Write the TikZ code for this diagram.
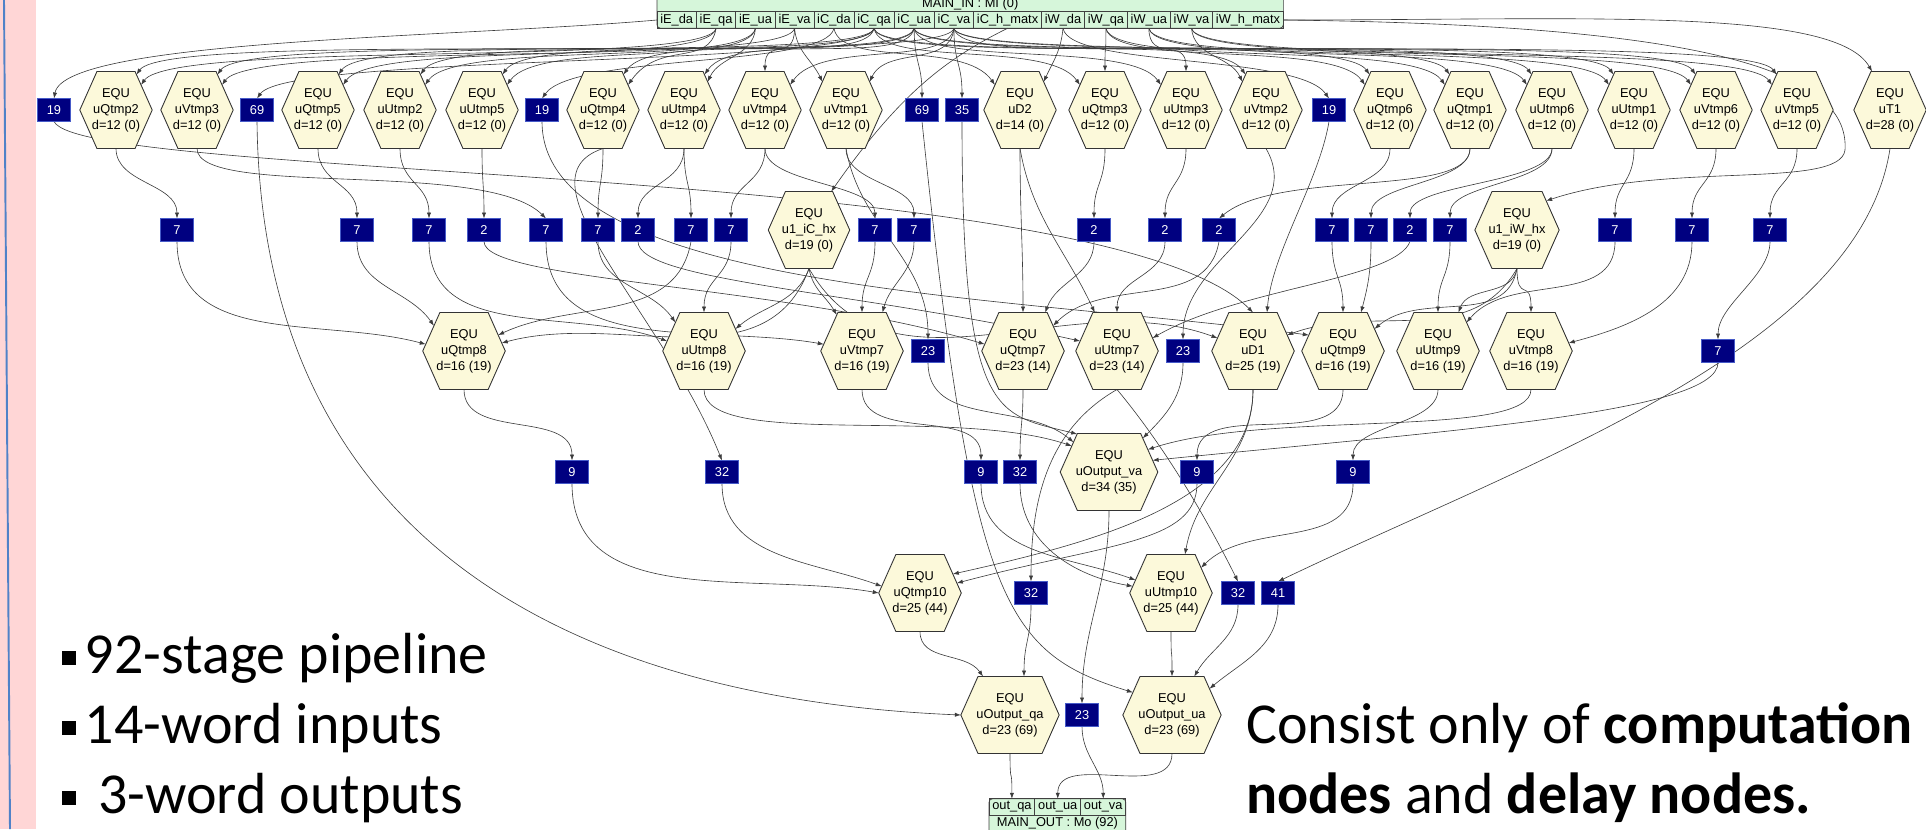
\documentclass[tikz,border=0pt]{standalone}
\usepackage{fontspec}
\setmainfont{Carlito}
\newfontfamily\gvfont{Liberation Sans}
\usepackage{tikz}
\usetikzlibrary{calc,arrows.meta,positioning,shapes.symbols,backgrounds}
\definecolor{hexfill}{RGB}{252,249,218}
\definecolor{dlyfill}{RGB}{0,0,128}
\definecolor{dlyedge}{RGB}{70,90,200}
\definecolor{recfill}{RGB}{214,246,218}
\definecolor{edgegray}{RGB}{60,60,60}
\definecolor{pinkbar}{RGB}{255,214,214}
\definecolor{bluebar}{RGB}{80,130,200}
\newcommand{\sqbul}{\rule[0.14em]{0.24em}{0.24em}\hspace{0.15em}}
\tikzset{
  equ/.style={shape=signal, signal to=east and west, signal pointer angle=132,
    draw=black!80, fill=hexfill, line width=0.5pt, align=center,
    font=\gvfont\fontsize{7.3}{9.1}\selectfont, minimum height=1.54cm,
    inner xsep=-0.07cm, inner ysep=1pt, outer sep=0pt},
  equtop/.style={equ, inner xsep=-0.1cm},
  equwide/.style={equ, inner xsep=-0.03cm},
  dly/.style={rectangle, fill=dlyfill, draw=dlyedge, line width=0.4pt, text=white,
    font=\gvfont\fontsize{7.3}{8}\selectfont, minimum width=0.67cm,
    minimum height=0.46cm, inner sep=0pt, outer sep=0pt},
  fld/.style={rectangle, draw=black!75, line width=0.4pt,
    font=\gvfont\fontsize{7.3}{8}\selectfont, minimum height=0.33cm,
    inner xsep=0.066cm, inner ysep=0pt, outer sep=0pt},
  rechead/.style={font=\gvfont\fontsize{7.3}{8}\selectfont, inner sep=0pt},
  recbox/.style={draw=black!75, fill=recfill, line width=0.4pt, rounded corners=2pt},
  arr/.style={-{Latex[length=1.2mm,width=0.85mm]}, draw=edgegray, line width=0.35pt},
  bandL/.style={out=-100, in=55, out distance=0.8cm, in distance=1.1cm},
  bandR/.style={out=-80, in=125, out distance=0.8cm, in distance=1.1cm},
  nearL/.style={out=-95, in=65},
  nearR/.style={out=-85, in=115},
  dn/.style={out=-90, in=90, distance=0.7cm},
  bigtxt/.style={font=\fontsize{33}{40}\selectfont, inner sep=0pt}
}

\begin{document}
\begin{tikzpicture}[x=0.02cm, y=0.02cm]
  \useasboundingbox (0,0) rectangle (1926,-829);
  \fill[pinkbar] (0,0) rectangle (36,-829);
  \draw[bluebar, line width=1.1pt] (4,0) -- (10,-829);

  % MAIN_IN record
  \node[fld, anchor=west] (iE_da) at (657,-20) {iE\_da};
  \node[fld, right=0pt of iE_da] (iE_qa) {iE\_qa};
  \node[fld, right=0pt of iE_qa] (iE_ua) {iE\_ua};
  \node[fld, right=0pt of iE_ua] (iE_va) {iE\_va};
  \node[fld, right=0pt of iE_va] (iC_da) {iC\_da};
  \node[fld, right=0pt of iC_da] (iC_qa) {iC\_qa};
  \node[fld, right=0pt of iC_qa] (iC_ua) {iC\_ua};
  \node[fld, right=0pt of iC_ua] (iC_va) {iC\_va};
  \node[fld, right=0pt of iC_va] (iC_h_matx) {iC\_h\_matx};
  \node[fld, right=0pt of iC_h_matx] (iW_da) {iW\_da};
  \node[fld, right=0pt of iW_da] (iW_qa) {iW\_qa};
  \node[fld, right=0pt of iW_qa] (iW_ua) {iW\_ua};
  \node[fld, right=0pt of iW_ua] (iW_va) {iW\_va};
  \node[fld, right=0pt of iW_va] (iW_h_matx) {iW\_h\_matx};
  \node[rechead] (mainin) at ($(iE_da.north west)!0.5!(iW_h_matx.north east)+(0,8)$) {MAIN\_IN : MI (0)};

  % row 1
  \node[dly] (d19a) at (54,-110) {19};
  \node[equtop] (uQtmp2) at (116,-110) {EQU\\uQtmp2\\d=12 (0)};
  \node[equtop] (uVtmp3) at (197,-110) {EQU\\uVtmp3\\d=12 (0)};
  \node[dly] (d69a) at (257,-110) {69};
  \node[equtop] (uQtmp5) at (318,-110) {EQU\\uQtmp5\\d=12 (0)};
  \node[equtop] (uUtmp2) at (400,-110) {EQU\\uUtmp2\\d=12 (0)};
  \node[equtop] (uUtmp5) at (482,-110) {EQU\\uUtmp5\\d=12 (0)};
  \node[dly] (d19b) at (542,-110) {19};
  \node[equtop] (uQtmp4) at (603,-110) {EQU\\uQtmp4\\d=12 (0)};
  \node[equtop] (uUtmp4) at (684,-110) {EQU\\uUtmp4\\d=12 (0)};
  \node[equtop] (uVtmp4) at (765,-110) {EQU\\uVtmp4\\d=12 (0)};
  \node[equtop] (uVtmp1) at (846,-110) {EQU\\uVtmp1\\d=12 (0)};
  \node[dly] (d69b) at (922,-110) {69};
  \node[dly] (d35) at (962,-110) {35};
  \node[equtop] (uD2) at (1020,-110) {EQU\\uD2\\d=14 (0)};
  \node[equtop] (uQtmp3) at (1105,-110) {EQU\\uQtmp3\\d=12 (0)};
  \node[equtop] (uUtmp3) at (1186,-110) {EQU\\uUtmp3\\d=12 (0)};
  \node[equtop] (uVtmp2) at (1266,-110) {EQU\\uVtmp2\\d=12 (0)};
  \node[dly] (d19c) at (1329,-110) {19};
  \node[equtop] (uQtmp6) at (1390,-110) {EQU\\uQtmp6\\d=12 (0)};
  \node[equtop] (uQtmp1) at (1470,-110) {EQU\\uQtmp1\\d=12 (0)};
  \node[equtop] (uUtmp6) at (1552,-110) {EQU\\uUtmp6\\d=12 (0)};
  \node[equtop] (uUtmp1) at (1634,-110) {EQU\\uUtmp1\\d=12 (0)};
  \node[equtop] (uVtmp6) at (1716,-110) {EQU\\uVtmp6\\d=12 (0)};
  \node[equtop] (uVtmp5) at (1797,-110) {EQU\\uVtmp5\\d=12 (0)};
  \node[equtop] (uT1) at (1890,-110) {EQU\\uT1\\d=28 (0)};

  % row 2
  \node[dly] (b1) at (177,-230) {7};
  \node[dly] (b2) at (357,-230) {7};
  \node[dly] (b3) at (429,-230) {7};
  \node[dly] (b4) at (484,-230) {2};
  \node[dly] (b5) at (546,-230) {7};
  \node[dly] (b6) at (598,-230) {7};
  \node[dly] (b7) at (638,-230) {2};
  \node[dly] (b8) at (691,-230) {7};
  \node[dly] (b9) at (731,-230) {7};
  \node[equ] (u1_iC_hx) at (809,-230) {EQU\\u1\_iC\_hx\\d=19 (0)};
  \node[dly] (b10) at (875,-230) {7};
  \node[dly] (b11) at (914,-230) {7};
  \node[dly] (b12) at (1094,-230) {2};
  \node[dly] (b13) at (1165,-230) {2};
  \node[dly] (b14) at (1219,-230) {2};
  \node[dly] (b15) at (1332,-230) {7};
  \node[dly] (b16) at (1371,-230) {7};
  \node[dly] (b17) at (1410,-230) {2};
  \node[dly] (b18) at (1450,-230) {7};
  \node[equ] (u1_iW_hx) at (1517,-230) {EQU\\u1\_iW\_hx\\d=19 (0)};
  \node[dly] (b19) at (1615,-230) {7};
  \node[dly] (b20) at (1692,-230) {7};
  \node[dly] (b21) at (1770,-230) {7};

  % row 3
  \node[equ] (uQtmp8) at (464,-351) {EQU\\uQtmp8\\d=16 (19)};
  \node[equ] (uUtmp8) at (704,-351) {EQU\\uUtmp8\\d=16 (19)};
  \node[equ] (uVtmp7) at (862,-351) {EQU\\uVtmp7\\d=16 (19)};
  \node[dly] (c23a) at (928,-351) {23};
  \node[equ] (uQtmp7) at (1023,-351) {EQU\\uQtmp7\\d=23 (14)};
  \node[equ] (uUtmp7) at (1117,-351) {EQU\\uUtmp7\\d=23 (14)};
  \node[dly] (c23b) at (1183,-351) {23};
  \node[equ] (uD1) at (1253,-351) {EQU\\uD1\\d=25 (19)};
  \node[equ] (uQtmp9) at (1343,-351) {EQU\\uQtmp9\\d=16 (19)};
  \node[equ] (uUtmp9) at (1438,-351) {EQU\\uUtmp9\\d=16 (19)};
  \node[equ] (uVtmp8) at (1531,-351) {EQU\\uVtmp8\\d=16 (19)};
  \node[dly] (c7) at (1718,-351) {7};

  % row 4
  \node[dly] (e9a) at (572,-472) {9};
  \node[dly] (e32a) at (722,-472) {32};
  \node[dly] (e9b) at (981,-472) {9};
  \node[dly] (e32b) at (1020,-472) {32};
  \node[equwide] (uOutput_va) at (1109,-472) {EQU\\uOutput\_va\\d=34 (35)};
  \node[dly] (e9c) at (1197,-472) {9};
  \node[dly] (e9d) at (1353,-472) {9};

  % row 5
  \node[equ] (uQtmp10) at (920,-593) {EQU\\uQtmp10\\d=25 (44)};
  \node[dly] (f32a) at (1031,-593) {32};
  \node[equ] (uUtmp10) at (1171,-593) {EQU\\uUtmp10\\d=25 (44)};
  \node[dly] (f32b) at (1238,-593) {32};
  \node[dly] (f41) at (1278,-593) {41};

  % row 6
  \node[equwide] (uOutput_qa) at (1010,-715) {EQU\\uOutput\_qa\\d=23 (69)};
  \node[dly] (g23) at (1082,-715) {23};
  \node[equwide] (uOutput_ua) at (1172,-715) {EQU\\uOutput\_ua\\d=23 (69)};

  % MAIN_OUT record
  \node[fld, anchor=west] (out_qa) at (989,-807) {out\_qa};
  \node[fld, right=0pt of out_qa] (out_ua) {out\_ua};
  \node[fld, right=0pt of out_ua] (out_va) {out\_va};
  \node[rechead] (mainout) at ($(out_qa.south west)!0.5!(out_va.south east)+(0,-8)$) {MAIN\_OUT : Mo (92)};

  \coordinate (wbend) at (1845,-150);

  \begin{scope}[on background layer]
    \draw[recbox] (iE_da.south west) rectangle ($(iW_h_matx.north east)+(0,20)$);
    \draw[recbox] (out_qa.north west) rectangle ($(out_va.south east)+(0,-20)$);

    % inputs
    \draw[arr] (iE_da.west) to[out=185, in=80, out distance=4cm, in distance=1.2cm] (d19a.north);
    \draw[arr] (iE_qa.south) to[bandL] (uQtmp2.45);
    \draw[arr] (iE_qa.south) to[bandL] (uQtmp5.45);
    \draw[arr] (iE_qa.south) to[bandL] (uQtmp4.45);
    \draw[arr] (iE_ua.south) to[bandL] (uUtmp2.45);
    \draw[arr] (iE_ua.south) to[bandL] (uUtmp5.45);
    \draw[arr] (iE_ua.south) to[nearL] (uUtmp4.50);
    \draw[arr] (iE_va.south) to[bandL] (uVtmp3.45);
    \draw[arr] (iE_va.south) to[dn] (uVtmp4.north);
    \draw[arr] (iE_va.south) to[nearR] (uVtmp1.130);
    \draw[arr] (iC_da.south) to[bandL] (d19b.north);
    \draw[arr] (iC_da.south) to[bandR] (uD2.135);
    \draw[arr] (iC_qa.south) to[bandL] (uQtmp2.60);
    \draw[arr] (iC_qa.south) to[bandL] (d69a.north);
    \draw[arr] (iC_qa.south) to[bandL] (uQtmp5.60);
    \draw[arr] (iC_qa.south) to[bandL] (uQtmp4.60);
    \draw[arr] (iC_qa.south) to[bandR] (uQtmp3.135);
    \draw[arr] (iC_qa.south) to[bandR] (uQtmp6.120);
    \draw[arr] (iC_qa.south) to[bandR] (uQtmp1.120);
    \draw[arr] (iC_ua.south) to[bandL] (uUtmp2.60);
    \draw[arr] (iC_ua.south) to[bandL] (uUtmp5.60);
    \draw[arr] (iC_ua.south) to[bandL] (uUtmp4.60);
    \draw[arr] (iC_ua.south) to[dn] (d69b.north);
    \draw[arr] (iC_ua.south) to[bandR] (uUtmp3.135);
    \draw[arr] (iC_ua.south) to[bandR] (uUtmp6.120);
    \draw[arr] (iC_ua.south) to[bandR] (uUtmp1.120);
    \draw[arr] (iC_va.south) to[bandL] (uVtmp3.60);
    \draw[arr] (iC_va.south) to[bandL] (uVtmp4.45);
    \draw[arr] (iC_va.south) to[nearL] (uVtmp1.50);
    \draw[arr] (iC_va.south) to[dn] (d35.north);
    \draw[arr] (iC_va.south) to[bandR] (uVtmp2.120);
    \draw[arr] (iC_va.south) to[bandR] (uVtmp6.120);
    \draw[arr] (iC_va.south) to[bandR] (uVtmp5.120);
    \draw[arr] (iC_h_matx.south) .. controls +(-60,-30) and +(70,100) .. (u1_iC_hx.60);
    \draw[arr] (iW_da.south) to[nearL] (uD2.50);
    \draw[arr] (iW_da.south) to[bandR] (d19c.north);
    \draw[arr] (iW_qa.south) to[dn] (uQtmp3.north);
    \draw[arr] (iW_qa.south) to[bandR] (uQtmp6.135);
    \draw[arr] (iW_qa.south) to[bandR] (uQtmp1.135);
    \draw[arr] (iW_ua.south) to[dn] (uUtmp3.north);
    \draw[arr] (iW_ua.south) to[bandR] (uUtmp6.135);
    \draw[arr] (iW_ua.south) to[bandR] (uUtmp1.135);
    \draw[arr] (iW_va.south) to[nearR] (uVtmp2.130);
    \draw[arr] (iW_va.south) to[bandR] (uVtmp6.135);
    \draw[arr] (iW_va.south) to[bandR] (uVtmp5.135);
    \draw[arr] (iW_h_matx.east) to[out=0, in=120, out distance=6cm, in distance=1.5cm] (uT1.115);
    \draw[arr] (iW_h_matx.east) .. controls +(420,-5) and +(5,80) .. (wbend) .. controls +(-5,-40) and +(120,40) .. (u1_iW_hx.45);

    % row 1 outputs
    \draw[arr] (uQtmp2.south) to[dn] (b1.north);
    \draw[arr] (uVtmp3.south) .. controls +(0,-50) and +(-60,60) .. (b5.north);
    \draw[arr] (uQtmp5.south) to[dn] (b2.north);
    \draw[arr] (uUtmp2.south) to[dn] (b3.north);
    \draw[arr] (uUtmp5.south) to[dn] (b4.north);
    \draw[arr] (uQtmp4.south) to[dn] (b6.north);
    \draw[arr] (uQtmp4.south) .. controls +(-90,-30) and +(-60,150) .. (e32a.north);
    \draw[arr] (uUtmp4.south) to[dn] (b7.north);
    \draw[arr] (uUtmp4.south) to[dn] (b8.north);
    \draw[arr] (uVtmp4.south) to[dn] (b9.north);
    \draw[arr] (uVtmp4.south) to[dn] (b10.north);
    \draw[arr] (uVtmp1.south) to[dn] (b11.north);
    \draw[arr] (uVtmp1.south) to[out=-80, in=90] (c23a.north);
    \draw[arr] (uD2.south) to[out=-90, in=90] (uQtmp7.north);
    \draw[arr] (uD2.south) to[out=-80, in=115] (uUtmp7.120);
    \draw[arr] (uQtmp3.south) to[dn] (b12.north);
    \draw[arr] (uUtmp3.south) to[dn] (b13.north);
    \draw[arr] (uVtmp2.south) to[out=-60, in=90] (c23b.north);
    \draw[arr] (uQtmp6.south) to[dn] (b15.north);
    \draw[arr] (uQtmp1.south) to[dn] (b16.north);
    \draw[arr] (uQtmp1.south) .. controls +(0,-50) and +(60,50) .. (b14.north);
    \draw[arr] (uUtmp6.south) to[dn] (b17.north);
    \draw[arr] (uUtmp6.south) to[dn] (b18.north);
    \draw[arr] (uUtmp1.south) to[dn] (b19.north);
    \draw[arr] (uVtmp6.south) to[dn] (b20.north);
    \draw[arr] (uVtmp5.south) to[dn] (b21.north);
    \draw[arr] (uT1.south) .. controls +(-30,-200) and +(250,120) .. (f41.north);
    \draw[arr] (d19a.south) .. controls +(30,-60) and +(-150,150) .. (uD1.north);
    \draw[arr] (d19b.south) .. controls +(0,-170) and +(-300,40) .. (uQtmp9.155);
    \draw[arr] (d19c.south) .. controls +(-10,-60) and +(5,60) .. (uD1.70);
    \draw[arr] (d35.south) .. controls +(0,-300) and +(-80,20) .. (uOutput_va.130);
    \draw[arr] (d69a.south) .. controls +(5,-440) and +(-360,15) .. (uOutput_qa.west);
    \draw[arr] (d69b.south) .. controls +(50,-480) and +(-130,40) .. (uOutput_ua.150);

    % row 2 outputs
    \draw[arr] (b1.south) to[out=-90, in=165] (uQtmp8.170);
    \draw[arr] (b2.south) to[out=-90, in=125] (uQtmp8.140);
    \draw[arr] (b8.south) to[out=-100, in=25] (uQtmp8.25);
    \draw[arr] (u1_iC_hx.south) to[out=-110, in=15] (uQtmp8.12);
    \draw[arr] (b3.south) to[out=-90, in=160] (uUtmp8.165);
    \draw[arr] (b6.south) to[out=-90, in=125] (uUtmp8.135);
    \draw[arr] (b9.south) to[dn] (uUtmp8.north);
    \draw[arr] (u1_iC_hx.south) to[out=-110, in=40] (uUtmp8.35);
    \draw[arr] (b5.south) to[out=-90, in=170] (uVtmp7.170);
    \draw[arr] (u1_iC_hx.south) to[out=-80, in=120] (uVtmp7.125);
    \draw[arr] (b10.south) to[dn] (uVtmp7.north);
    \draw[arr] (b11.south) to[out=-90, in=75] (uVtmp7.62);
    \draw[arr] (u1_iC_hx.south) to[out=-60, in=160] (uD1.160);
    \draw[arr] (b4.south) .. controls +(0,-40) and +(-200,60) .. (uQtmp7.170);
    \draw[arr] (b12.south) to[out=-90, in=70] (uQtmp7.60);
    \draw[arr] (b14.south) to[out=-100, in=45] (uQtmp7.40);
    \draw[arr] (b7.south) .. controls +(0,-40) and +(-220,50) .. (uUtmp7.165);
    \draw[arr] (b13.south) to[dn] (uUtmp7.north);
    \draw[arr] (b17.south) .. controls +(-14,-38) and +(87,50) .. (uUtmp7.20);
    \draw[arr] (b15.south) to[dn] (uQtmp9.north);
    \draw[arr] (b16.south) to[out=-90, in=75] (uQtmp9.65);
    \draw[arr] (u1_iW_hx.south) to[out=-100, in=40] (uQtmp9.35);
    \draw[arr] (b18.south) to[dn] (uUtmp9.north);
    \draw[arr] (b19.south) to[out=-90, in=50] (uUtmp9.45);
    \draw[arr] (u1_iW_hx.south) to[out=-100, in=70] (uUtmp9.62);
    \draw[arr] (u1_iW_hx.south) to[dn] (uVtmp8.north);
    \draw[arr] (u1_iW_hx.south) to[out=-120, in=20] (uD1.25);
    \draw[arr] (b20.south) to[out=-90, in=15] (uVtmp8.12);
    \draw[arr] (b21.south) to[dn] (c7.north);

    % row 3 outputs
    \draw[arr] (uQtmp8.south) to[out=-90, in=90] (e9a.north);
    \draw[arr] (e9a.south) to[out=-90, in=170] (uQtmp10.west);
    \draw[arr] (e32a.south) to[out=-90, in=160] (uQtmp10.170);
    \draw[arr] (uUtmp8.south) .. controls +(0,-60) and +(-120,40) .. (uOutput_va.145);
    \draw[arr] (uVtmp7.south) to[out=-90, in=90] (e9b.north);
    \draw[arr] (e9b.south) to[out=-90, in=160] (uUtmp10.160);
    \draw[arr] (uQtmp7.south) to[dn] (e32b.north);
    \draw[arr] (e32b.south) to[out=-90, in=170] (uUtmp10.170);
    \draw[arr] (c23a.south) to[out=-90, in=140] (uOutput_va.140);
    \draw[arr] (c23b.south) to[out=-90, in=45] (uOutput_va.45);
    \draw[arr] (uUtmp7.south) .. controls +(-70,-40) and +(0,80) .. (f32a.north);
    \draw[arr] (uUtmp7.south) .. controls +(50,-60) and +(-30,60) .. (f32b.north);
    \draw[arr] (uD1.south) to[out=-90, in=80] (uUtmp10.70);
    \draw[arr] (uD1.south) .. controls +(0,-112) and +(143,32) .. (uQtmp10.30);
    \draw[arr] (uQtmp9.south) to[out=-90, in=90] (e9c.north);
    \draw[arr] (e9c.south) .. controls +(0,-60) and +(150,40) .. (uQtmp10.15);
    \draw[arr] (uUtmp9.south) to[dn] (e9d.north);
    \draw[arr] (e9d.south) to[out=-90, in=45] (uUtmp10.40);
    \draw[arr] (uVtmp8.south) .. controls +(0,-50) and +(120,40) .. (uOutput_va.30);
    \draw[arr] (c7.south) .. controls +(0,-50) and +(300,30) .. (uOutput_va.15);

    % outputs
    \draw[arr] (uOutput_va.south) to[out=-90, in=90] (g23.north);
    \draw[arr] (g23.south) to[out=-90, in=90] (out_va.north);
    \draw[arr] (uQtmp10.south) to[out=-90, in=125] (uOutput_qa.125);
    \draw[arr] (f32a.south) to[dn] (uOutput_qa.70);
    \draw[arr] (uUtmp10.south) to[dn] (uOutput_ua.north);
    \draw[arr] (f32b.south) to[out=-90, in=60] (uOutput_ua.60);
    \draw[arr] (f41.south) to[out=-90, in=40] (uOutput_ua.35);
    \draw[arr] (uOutput_qa.south) to[dn] (out_qa.north);
    \draw[arr] (uOutput_ua.south) to[out=-90, in=90] (out_ua.north);
  \end{scope}

  % slide text
  \node[bigtxt, anchor=base west] (pt1) at (62,-673) {\sqbul 92-stage pipeline};
  \node[bigtxt, anchor=base west] (pt2) at (62,-743) {\sqbul 14-word inputs};
  \node[bigtxt, anchor=base west] (pt3) at (62,-813) {\sqbul\ 3-word outputs};
  \node[bigtxt, anchor=base west] (cs1) at (1246,-743) {Consist only of \textbf{computation}};
  \node[bigtxt, anchor=base west] (cs2) at (1246,-813) {\textbf{nodes} and \textbf{delay nodes.}};
\end{tikzpicture}
\end{document}
